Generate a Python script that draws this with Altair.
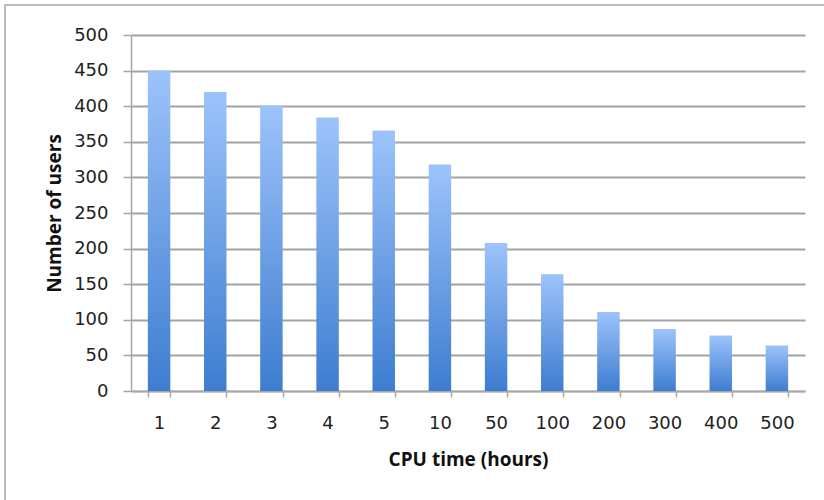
import altair as alt
import pandas as pd

# CPU-time thresholds (hours) and the number of users reaching each
cpu_hours = ["1", "2", "3", "4", "5", "10", "50", "100", "200", "300", "400", "500"]
users = [450, 420, 401, 384, 366, 318, 208, 164, 111, 87, 78, 64]

df = pd.DataFrame({"cpu": cpu_hours, "users": users})

bar_fill = alt.Gradient(
    gradient="linear",
    stops=[
        alt.GradientStop(color="#9dc3fb", offset=0),
        alt.GradientStop(color="#3d7dd0", offset=1),
    ],
    x1=0, x2=0, y1=0, y2=1,
)

bars = alt.Chart(df).mark_bar(fill=bar_fill).encode(
    x=alt.X(
        "cpu:N",
        sort=None,
        scale=alt.Scale(paddingInner=0.6, paddingOuter=0.3),
        axis=alt.Axis(
            title="CPU time (hours)",
            labelAngle=0,
            labelFont="DejaVu Sans",
            labelFontSize=18,
            labelColor="#222222",
            labelBaseline="middle",
            labelPadding=26,
            tickBand="extent",
            tickSize=6,
            tickColor="#a6a6a6",
            tickWidth=1.5,
            domainColor="#a6a6a6",
            domainWidth=1.5,
            grid=False,
            titleFont="Open Sans",
            titleFontWeight="bold",
            titleFontSize=19,
            titleColor="#111111",
            titleBaseline="middle",
            titleY=68,
        ),
    ),
    y=alt.Y(
        "users:Q",
        scale=alt.Scale(domain=[0, 500], nice=False),
        axis=alt.Axis(
            title="Number of users",
            values=list(range(0, 501, 50)),
            labelFont="DejaVu Sans",
            labelFontSize=18,
            labelColor="#222222",
            labelPadding=15,
            tickSize=8,
            tickColor="#a6a6a6",
            tickWidth=1.5,
            domainColor="#a6a6a6",
            domainWidth=1.5,
            grid=True,
            gridColor="#a3a3a3",
            gridWidth=1.8,
            titleFont="Open Sans",
            titleFontWeight="bold",
            titleFontSize=19,
            titleColor="#111111",
            titleAngle=270,
            titleBaseline="middle",
            titleX=-77,
            titleY=178,
        ),
    ),
)

# thin grey frame around the whole figure
frame = alt.Chart(pd.DataFrame({"k": [0]})).mark_rect(
    fill=None, stroke="#a6a6a6", strokeWidth=1.5, clip=False
).encode(
    x=alt.value(-126), x2=alt.value(720),
    y=alt.value(-30), y2=alt.value(500),
)

chart = (
    alt.layer(frame, bars)
    .properties(
        width=674,
        height=356,
        autosize=alt.AutoSizeParams(type="none"),
        padding={"left": 131, "top": 35, "right": 19, "bottom": 109},
        background="white",
    )
    .configure_view(stroke=None)
)

chart.save("out.html", embed_options={"renderer": "svg", "actions": False})
